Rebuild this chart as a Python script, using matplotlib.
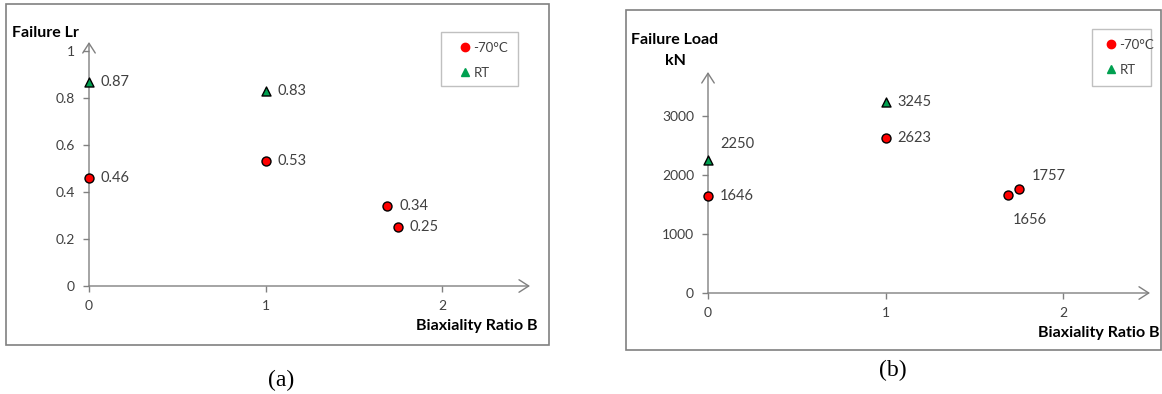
import matplotlib
matplotlib.use("Agg")
import matplotlib.pyplot as plt
from matplotlib.patches import Rectangle
from matplotlib.lines import Line2D

# ---- data ----
b_cold = [0, 1, 1.69, 1.75]
lr_cold = [0.46, 0.53, 0.34, 0.25]
b_rt = [0, 1]
lr_rt = [0.87, 0.83]

load_cold = [1646, 2623, 1656, 1757]
load_rt = [2250, 3245]

x_ticks = [0, 1, 2]
lr_ticks = [0, 0.2, 0.4, 0.6, 0.8, 1]
load_ticks = [0, 1000, 2000, 3000]

W, H = 1162, 394
fig = plt.figure(figsize=(W / 100, H / 100), dpi=100)
plt.rcParams['font.family'] = ['Lato', 'DejaVu Sans']

GRAY = '#808080'
TXT = '#404040'
RED = '#ff0000'
GREEN = '#00a050'


def fig_rect(x0, y0, x1, y1):
    return [x0 / W, (H - y1) / H, (x1 - x0) / W, (y1 - y0) / H]


def setup_axes(ax, xmax, ymax, yticks, yfmt):
    ax.set_xlim(0, xmax)
    ax.set_ylim(0, ymax)
    for s in ax.spines.values():
        s.set_visible(False)
    ax.patch.set_alpha(0)
    ax.set_xticks(x_ticks)
    ax.set_xticklabels([str(t) for t in x_ticks])
    ax.set_yticks(yticks)
    ax.set_yticklabels([yfmt(t) for t in yticks])
    ax.tick_params(axis='both', colors=GRAY, labelcolor=TXT, labelsize=10,
                   length=4, width=1, direction='out', pad=6)
    ax.annotate('', xy=(1, 0), xytext=(0, 0), xycoords='axes fraction',
                arrowprops=dict(arrowstyle='->,head_length=0.7,head_width=0.45',
                                color=GRAY, lw=1, shrinkA=0, shrinkB=0))
    ax.annotate('', xy=(0, 1), xytext=(0, 0), xycoords='axes fraction',
                arrowprops=dict(arrowstyle='->,head_length=0.7,head_width=0.45',
                                color=GRAY, lw=1, shrinkA=0, shrinkB=0))


def legend():
    return [Line2D([], [], marker='o', ls='none', color=RED, markersize=6, label='-70°C'),
            Line2D([], [], marker='^', ls='none', color=GREEN, markersize=6, label='RT')]


# ---- panel (a) ----
fig.add_artist(Rectangle((6 / W, (H - 345) / H), (549 - 6) / W, (345 - 4) / H,
                         transform=fig.transFigure, fill=False, ec=GRAY, lw=1.2))
axa = fig.add_axes(fig_rect(89, 42, 530, 286))
xmax_a = (530 - 89) / 176.5
ymax_a = (286 - 42) / 235.0
setup_axes(axa, xmax_a, ymax_a, lr_ticks, lambda t: f'{t:g}')
axa.scatter(b_cold, lr_cold, s=42, c=RED, edgecolors='black', linewidths=1, zorder=3, clip_on=False)
axa.scatter(b_rt, lr_rt, marker='^', s=42, c=GREEN, edgecolors='black', linewidths=1, zorder=3, clip_on=False)
for x, y in zip(b_cold + b_rt, lr_cold + lr_rt):
    axa.annotate(f'{y:.2f}', (x, y), xytext=(8.6, 0), textcoords='offset points',
                 va='center', ha='left', fontsize=10.5, color=TXT)
fig.text(12 / W, 1 - 33 / H, 'Failure Lr', fontsize=11.5, fontweight='bold', color='black', va='center')
fig.text(537 / W, 1 - 326 / H, 'Biaxiality Ratio B', fontsize=11.5, fontweight='bold',
         color='black', va='center', ha='right')
fig.add_artist(Rectangle((441 / W, (H - 86) / H), (518 - 441) / W, (86 - 32) / H,
                         transform=fig.transFigure, fill=False, ec='#c0c0c0', lw=1))
fig.legend(handles=legend(), loc='upper left', bbox_to_anchor=(451 / W, 1 - 35 / H),
           frameon=False, fontsize=9.5, labelcolor=TXT, handletextpad=0.1,
           handlelength=1.1, labelspacing=1.0, borderpad=0)
fig.text(281 / W, 1 - 380 / H, '(a)', fontsize=17, family='Liberation Serif', ha='center', va='center')

# ---- panel (b) ----
fig.add_artist(Rectangle((626 / W, (H - 350) / H), (1161 - 626) / W, (350 - 10) / H,
                         transform=fig.transFigure, fill=False, ec=GRAY, lw=1.2))
axb = fig.add_axes(fig_rect(708, 72, 1150, 293))
xmax_b = (1150 - 708) / 177.5
ymax_b = (293 - 72) / 59.0 * 1000
setup_axes(axb, xmax_b, ymax_b, load_ticks, lambda t: f'{t:d}')
axb.scatter(b_cold, load_cold, s=42, c=RED, edgecolors='black', linewidths=1, zorder=3, clip_on=False)
axb.scatter(b_rt, load_rt, marker='^', s=42, c=GREEN, edgecolors='black', linewidths=1, zorder=3, clip_on=False)
offs_cold = [(8.6, 0), (8.6, 0), (3.6, -18), (9.4, 9.4)]
offs_rt = [(8.6, 11.5), (8.6, 0)]
for (x, y), o in zip(zip(b_cold + b_rt, load_cold + load_rt), offs_cold + offs_rt):
    axb.annotate(f'{y:d}', (x, y), xytext=o, textcoords='offset points',
                 va='center', ha='left', fontsize=10.5, color=TXT)
fig.text(675 / W, 1 - 40 / H, 'Failure Load', fontsize=11.5, fontweight='bold', color='black',
         va='center', ha='center')
fig.text(675 / W, 1 - 61 / H, 'kN', fontsize=11.5, fontweight='bold', color='black',
         va='center', ha='center')
fig.text(1160 / W, 1 - 333 / H, 'Biaxiality Ratio B', fontsize=11.5, fontweight='bold',
         color='black', va='center', ha='right')
fig.add_artist(Rectangle((1092 / W, (H - 86) / H), (1151 - 1092) / W, (86 - 29) / H,
                         transform=fig.transFigure, fill=False, ec='#c0c0c0', lw=1))
fig.legend(handles=legend(), loc='upper left', bbox_to_anchor=(1097 / W, 1 - 32 / H),
           frameon=False, fontsize=9.5, labelcolor=TXT, handletextpad=0.1,
           handlelength=1.1, labelspacing=1.0, borderpad=0)
fig.text(893 / W, 1 - 370 / H, '(b)', fontsize=17, family='Liberation Serif', ha='center', va='center')

fig.savefig('out.png', dpi=100)
